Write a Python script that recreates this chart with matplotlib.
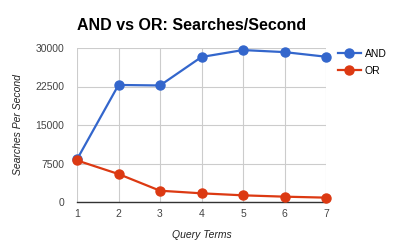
import matplotlib.pyplot as plt
from matplotlib.ticker import FixedLocator

plt.rcParams['font.family'] = ['Liberation Sans', 'DejaVu Sans']

query_terms = [1, 2, 3, 4, 5, 6, 7]
and_values = [8300, 22800, 22700, 28250, 29600, 29200, 28300]
or_values = [8100, 5450, 2200, 1690, 1300, 1040, 850]
y_ticks = [0, 7500, 15000, 22500, 30000]

fig = plt.figure(figsize=(4.04, 2.5), dpi=100)
ax = fig.add_axes([77 / 404, 1 - 202 / 250, (326 - 77) / 404, (202 - 48) / 250])

ax.plot(query_terms, and_values, color='#3366CC', lw=1.6, marker='o', ms=6.5,
        label='AND', clip_on=False, zorder=3)
ax.plot(query_terms, or_values, color='#DC3912', lw=1.6, marker='o', ms=6.5,
        label='OR', clip_on=False, zorder=3)

ax.set_xlim(1, 7)
ax.set_ylim(0, 30000)
ax.xaxis.set_major_locator(FixedLocator(query_terms))
ax.yaxis.set_major_locator(FixedLocator(y_ticks))
ax.grid(True, color='#cccccc', lw=0.8)
ax.set_axisbelow(True)
for side in ['top', 'right', 'left']:
    ax.spines[side].set_visible(False)
ax.spines['bottom'].set_color('#333333')
ax.spines['bottom'].set_linewidth(1)
ax.tick_params(length=0, labelsize=7.5, labelcolor='#444444')
ax.tick_params(axis='x', pad=5)
ax.tick_params(axis='y', pad=9)

ax.set_xlabel('Query Terms', fontsize=7.5, style='italic', color='#222222', labelpad=8)
ax.set_ylabel('Searches Per Second', fontsize=7.5, style='italic', color='#222222', labelpad=9)

fig.text(77 / 404, 1 - 25 / 250, 'AND vs OR: Searches/Second', fontsize=11.5,
         fontweight='bold', ha='left', va='center')

ax.legend(loc='upper left', bbox_to_anchor=(1.01, 1.055), frameon=False,
          fontsize=7.5, handlelength=2.2, handletextpad=0.4, labelspacing=0.65)

fig.savefig('out.png', dpi=100)
